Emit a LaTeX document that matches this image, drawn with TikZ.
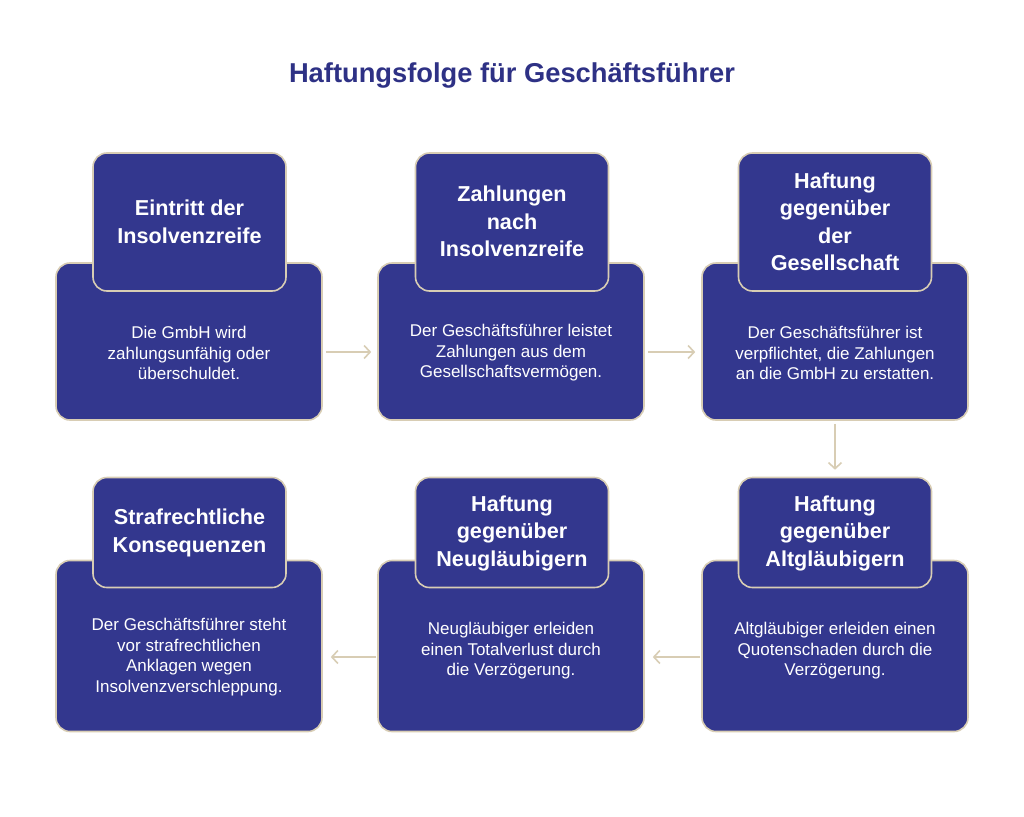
\documentclass[tikz,border=0pt]{standalone}
\usepackage{fontspec}
\setmainfont{Liberation Sans}
\usetikzlibrary{arrows.meta}
\definecolor{cardblue}{HTML}{33378E}
\definecolor{titleblue}{HTML}{2E3185}
\definecolor{beige}{HTML}{D8CDB4}
\tikzset{
  basebox/.style={draw=beige, fill=cardblue, line width=1.6pt, rounded corners=14pt, inner sep=0pt},
  headbox/.style={basebox, minimum width=193pt},
  bodybox/.style={basebox, minimum width=266pt},
  headtext/.style={text=white, align=center, font=\bfseries\fontsize{21.6}{27.5}\selectfont},
  bodytext/.style={text=white, align=center, font=\fontsize{17}{20.5}\selectfont},
  flow/.style={draw=beige, line width=1.6pt, -{Straight Barb[length=6pt,width=13pt,line width=1.6pt]}},
}
\begin{document}
\begin{tikzpicture}[x=1pt,y=-1pt]
\useasboundingbox[fill=white] (0,0) rectangle (1024,816);
\node[text=titleblue, font=\bfseries\fontsize{27.3}{32}\selectfont] (title) at (512,76) {Haftungsfolge für Geschäftsführer};
% row 1
\node[bodybox, minimum height=157pt] (b1) at (189,341.5) {};
\node[headbox, minimum height=138pt] (h1) at (189.5,222) {};
\node[bodybox, minimum height=157pt] (b2) at (511,341.5) {};
\node[headbox, minimum height=138pt] (h2) at (512,222) {};
\node[bodybox, minimum height=157pt] (b3) at (835,341.5) {};
\node[headbox, minimum height=138pt] (h3) at (835,222) {};
% row 2
\node[bodybox, minimum height=171pt] (b4) at (189,646) {};
\node[headbox, minimum height=110pt] (h4) at (189.5,532.5) {};
\node[bodybox, minimum height=171pt] (b5) at (511,646) {};
\node[headbox, minimum height=110pt] (h5) at (512,532.5) {};
\node[bodybox, minimum height=171pt] (b6) at (835,646) {};
\node[headbox, minimum height=110pt] (h6) at (835,532.5) {};
% header texts
\node[headtext] (ht1) at (189.5,222) {Eintritt der\\Insolvenzreife};
\node[headtext] (ht2) at (512,221.5) {Zahlungen\\nach\\Insolvenzreife};
\node[headtext] (ht3) at (835,222) {Haftung\\gegenüber\\der\\Gesellschaft};
\node[headtext] (ht4) at (189.5,533) {Strafrechtliche\\Konsequenzen};
\node[headtext] (ht5) at (512,533) {Haftung\\gegenüber\\Neugläubigern};
\node[headtext] (ht6) at (835,533) {Haftung\\gegenüber\\Altgläubigern};
% body texts
\node[bodytext] (bt1) at (189,353) {Die GmbH wird\\zahlungsunfähig oder\\überschuldet.};
\node[bodytext] (bt2) at (511,353) {Der Geschäftsführer leistet\\Zahlungen aus dem\\Gesellschaftsvermögen.};
\node[bodytext] (bt3) at (835,353) {Der Geschäftsführer ist\\verpflichtet, die Zahlungen\\an die GmbH zu erstatten.};
\node[bodytext] (bt4) at (189,657) {Der Geschäftsführer steht\\vor strafrechtlichen\\Anklagen wegen\\Insolvenzverschleppung.};
\node[bodytext] (bt5) at (511,651) {Neugläubiger erleiden\\einen Totalverlust durch\\die Verzögerung.};
\node[bodytext] (bt6) at (835,651) {Altgläubiger erleiden einen\\Quotenschaden durch die\\Verzögerung.};
% arrows
\draw[flow, shorten <=3pt, shorten >=6pt] ([yshift=-10.5pt]b1.east) -- ([yshift=-10.5pt]b2.west);
\draw[flow, shorten <=3pt, shorten >=6pt] ([yshift=-10.5pt]b2.east) -- ([yshift=-10.5pt]b3.west);
\draw[flow, shorten <=3pt, shorten >=7pt] (b3.south) -- (h6.north);
\draw[flow, shorten <=1pt, shorten >=8pt] ([yshift=-11pt]b6.west) -- ([yshift=-11pt]b5.east);
\draw[flow, shorten <=1pt, shorten >=8pt] ([yshift=-11pt]b5.west) -- ([yshift=-11pt]b4.east);
\end{tikzpicture}
\end{document}
